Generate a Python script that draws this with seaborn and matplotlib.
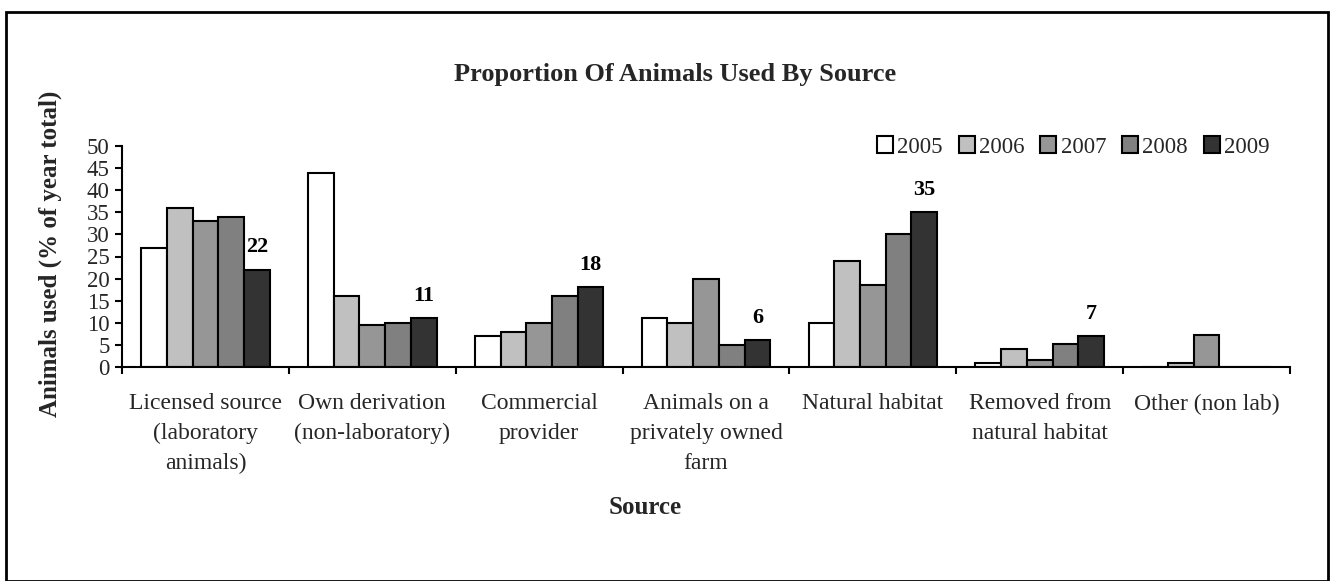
import matplotlib
matplotlib.use("Agg")
import matplotlib.pyplot as plt
import seaborn as sns
import pandas as pd
import numpy as np
from matplotlib.patches import Rectangle

# Source categories (x axis) and survey years (bar groups)
categories = [
    "Licensed source\n(laboratory\nanimals)",
    "Own derivation\n(non-laboratory)",
    "Commercial\nprovider",
    "Animals on a\nprivately owned\nfarm",
    "Natural habitat",
    "Removed from\nnatural habitat",
    "Other (non lab)",
]
years = ["2005", "2006", "2007", "2008", "2009"]

# Share of animals used per source, % of the year's total
pct_2005 = [27, 44, 7, 11, 10, 1, 0]
pct_2006 = [36, 16, 8, 10, 24, 4, 1]
pct_2007 = [33, 9.5, 10, 20, 18.5, 1.5, 7.3]
pct_2008 = [34, 10, 16, 5, 30, 5.3, 0]
pct_2009 = [22, 11, 18, 6, 35, 7, 0]

bar_colors = ["#FFFFFF", "#C0C0C0", "#969696", "#808080", "#333333"]

df = pd.DataFrame({
    "Source": categories * len(years),
    "Year": np.repeat(years, len(categories)),
    "Percent": pct_2005 + pct_2006 + pct_2007 + pct_2008 + pct_2009,
})

sns.set_theme(style="white")
plt.rcParams["font.family"] = ["Liberation Serif", "DejaVu Serif"]

W, H = 1332, 581
fig = plt.figure(figsize=(W / 100, H / 100), dpi=100)
ax = fig.add_axes([122 / W, 1 - 367 / H, (1290 - 122) / W, (367 - 146) / H])

sns.barplot(data=df, x="Source", y="Percent", hue="Year", order=categories,
            hue_order=years, palette=bar_colors, width=0.77, gap=0,
            edgecolor="black", linewidth=1.5, saturation=1, ax=ax)

# Value labels on the 2009 bars
last = ax.containers[-1]
lbls = [f"{v:g}" if v > 0 else "" for v in pct_2009]
ax.bar_label(last, labels=lbls, padding=9, fontsize=16, fontweight="bold",
             color="black")

ax.set_ylim(0, 50)
ax.set_yticks(range(0, 51, 5))
ax.set_xlim(-0.5, len(categories) - 0.5)

# Boundary ticks between categories, labels centred on each group
ax.set_xticks(np.arange(-0.5, len(categories), 1.0))
ax.set_xticklabels([])
ax.set_xticks(range(len(categories)), minor=True)
ax.set_xticklabels(categories, minor=True, fontsize=17, linespacing=1.55)
ax.tick_params(axis="x", which="major", direction="out", length=5, width=1.5,
               color="black", bottom=True)
ax.tick_params(axis="x", which="minor", length=0, pad=19, bottom=True)
ax.tick_params(axis="y", direction="out", length=5, width=1.5, color="black",
               labelsize=16.5, pad=4, left=True)

for side in ["top", "right"]:
    ax.spines[side].set_visible(False)
for side in ["left", "bottom"]:
    ax.spines[side].set_color("black")
    ax.spines[side].set_linewidth(1.5)

ax.set_xlabel("")
ax.set_ylabel("")

# Legend across the top right
handles, labels = ax.get_legend_handles_labels()
for h in handles:
    h.set_edgecolor("black")
    h.set_linewidth(1.5)
ax.legend(handles, labels, ncol=5, loc="center left",
          bbox_to_anchor=(877 / W, 1 - 147 / H), bbox_transform=fig.transFigure,
          frameon=False, fontsize=16.5, handlelength=0.7, handleheight=0.7,
          handletextpad=0.18, columnspacing=0.7, borderpad=0, borderaxespad=0)

fig.text(675 / W, 1 - 75 / H, "Proportion Of Animals Used By Source",
         ha="center", va="center", fontsize=19, fontweight="bold")
fig.text(50 / W, 1 - 254 / H, "Animals used (% of year total)", rotation=90,
         ha="center", va="center", fontsize=18, fontweight="bold")
fig.text(645 / W, 1 - 507 / H, "Source", ha="center", va="center",
         fontsize=18, fontweight="bold")

# Chart area border
fig.patches.append(Rectangle((6 / W, 0.5 / H), (1328 - 6) / W, (H - 12 - 0.5) / H,
                             transform=fig.transFigure, fill=False,
                             edgecolor="black", linewidth=2))

fig.savefig("out.png", dpi=100)
